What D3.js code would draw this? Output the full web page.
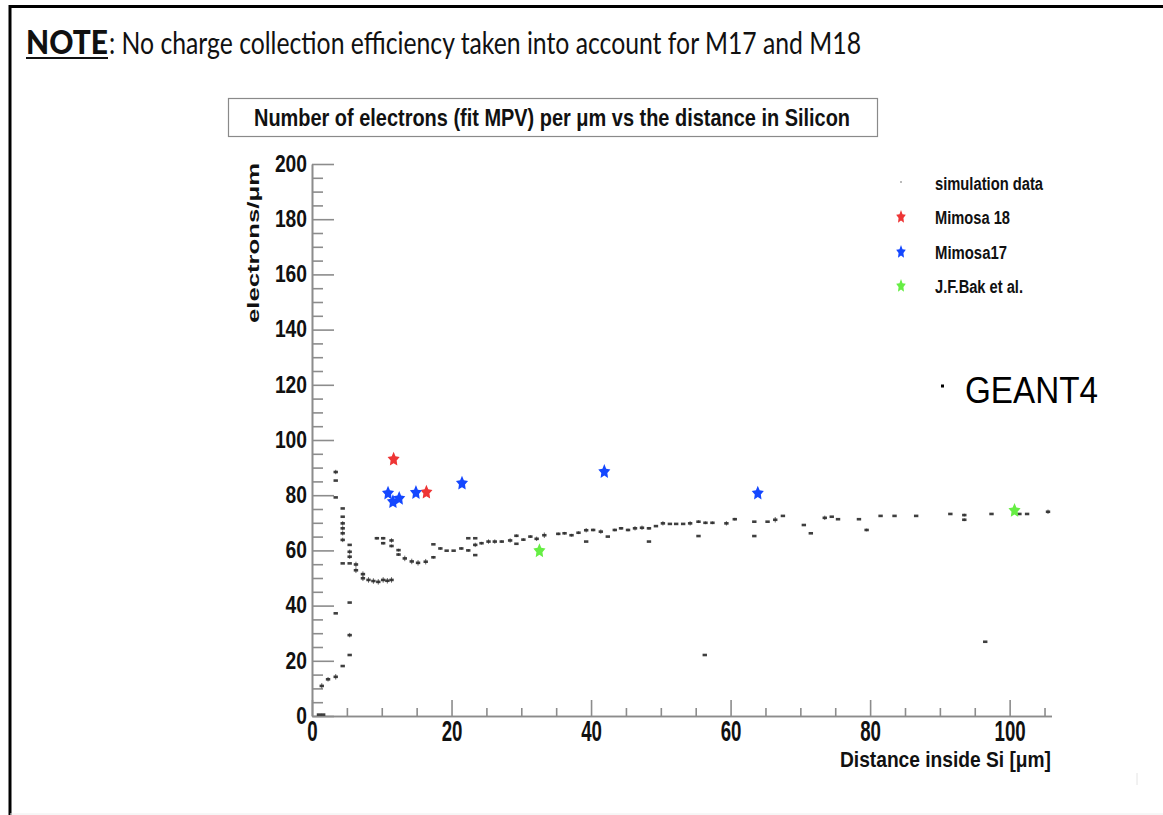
<!DOCTYPE html>
<html>
<head>
<meta charset="utf-8">
<script src="https://cdn.jsdelivr.net/npm/d3@7"></script>
<style>
  html, body { margin: 0; padding: 0; background: #fff; }
  svg { display: block; }
  .root-text { font-family: "Liberation Sans", Arial, sans-serif; font-weight: bold; fill: #111; }
</style>
</head>
<body>
<svg id="chart" width="1163" height="815"></svg>
<script>
// Simulated electrons per micron (fit MPV) vs distance in silicon
const simX = [1.0, 1.6, 1.4, 2.3, 3.4, 4.4,
  3.4, 3.4, 3.4, 3.4,
  4.4, 4.4, 4.4, 4.4, 4.4, 4.4, 4.4,
  5.4, 5.4, 5.4, 5.4, 5.4, 5.4, 5.4,
  6.3, 6.3,
  7.3, 7.3, 8.1, 8.8, 9.5, 10.2, 10.8, 11.4,
  9.3, 10.2, 10.2, 11.4, 11.4,
  12.4, 12.4, 13.3, 14.3, 15.2, 16.3, 17.4, 17.4,
  18.4, 19.3, 20.3, 21.4,
  22.4, 22.4, 23.4, 23.4, 23.4, 24.3, 25.3, 26.2, 27.2, 28.4, 29.3, 29.3, 30.3, 31.3, 32.2, 33.3,
  35.3, 36.2, 37.2, 38.2, 39.3, 39.3, 40.3, 41.4, 42.4, 43.4, 44.3, 45.3, 46.3, 47.3, 48.3, 48.3,
  49.3, 50.3, 51.3, 52.2, 53.2, 54.2, 55.4, 55.4, 56.4, 57.4, 59.4, 60.6, 63.4, 63.4, 65.3, 66.4,
  67.5, 70.5, 71.5, 73.5, 74.5, 75.4, 78.4, 79.5, 81.5, 83.5, 86.6, 91.5, 93.5, 93.5, 97.4,
  101.4, 102.5, 105.5,
  56.3, 96.5];
const simY = [0.5, 0.5, 10.9, 13.3, 14.2, 18.1,
  88.4, 85.3, 79.2, 37.2,
  75.2, 72.2, 69.8, 68.0, 66.2, 63.8, 55.3,
  62.0, 59.5, 57.7, 55.3, 41.1, 29.3, 22.1,
  54.9, 52.8,
  51.4, 49.9, 49.3, 48.9, 48.6, 49.3, 49.0, 49.3,
  64.4, 64.4, 62.6, 63.6, 61.6,
  60.1, 58.5, 57.1, 56.0, 55.5, 55.9, 57.5, 62.2,
  60.7, 59.9, 59.9, 60.7,
  64.4, 60.0, 64.4, 62.0, 58.3, 62.6, 63.2, 63.2, 63.2, 63.6, 65.3, 62.4, 63.9, 65.0, 64.2, 65.5,
  66.0, 66.2, 65.5, 66.4, 67.3, 63.2, 67.4, 66.8, 65.0, 67.4, 68.0, 67.4, 68.0, 68.2, 68.0, 63.2,
  68.8, 69.8, 69.6, 69.6, 69.6, 69.8, 70.4, 65.2, 70.0, 70.0, 69.8, 71.3, 70.4, 65.2, 70.4, 71.1,
  72.5, 69.2, 66.2, 71.8, 72.2, 71.3, 71.3, 67.4, 72.5, 72.5, 72.5, 73.2, 72.8, 71.1, 73.2,
  73.2, 73.2, 74.0,
  22.1, 26.9];
const simErr = [0, 0, 1, 0.8, 1, 0,
  0.8, 0, 0, 0,
  0, 0, 0.8, 0.8, 0.8, 0.8, 0,
  0, 0.8, 0.8, 0, 0, 0.8, 0,
  1, 1,
  1, 1, 1, 1, 1, 1, 1, 1,
  0.5, 0.5, 0.5, 0.8, 0.5,
  0.5, 0.5, 1, 1, 1, 1, 0.5, 0,
  0.5, 0, 0, 0.5,
  0, 0.5, 0, 0.8, 0, 0.5, 0.8, 0.8, 0.5, 0.8, 0.5, 0, 0.5, 0.5, 0.8, 1,
  0.5, 0.5, 0.5, 0.5, 0.8, 0, 0.5, 0.8, 0, 0.5, 0.5, 0.5, 0.8, 0.8, 0.5, 0,
  0, 0.8, 0, 0, 0, 0.8, 0.5, 0, 0.5, 0.5, 0.8, 0.5, 0, 0, 0, 1,
  0, 0, 0, 0.8, 0, 0, 0, 0.5, 0, 0, 0, 0, 0.5, 0.5, 0,
  0, 0, 0.8,
  0, 0];

// Measured MPV points
const m18X = [11.7, 16.4];
const m18Y = [93.0, 81.0];
const m17X = [10.9, 11.6, 12.5, 14.9, 21.5, 41.9, 63.9];
const m17Y = [80.7, 77.6, 78.8, 80.9, 84.3, 88.5, 80.7];
const bakX = [32.6, 100.7];
const bakY = [59.8, 74.4];

// Axis ticks and labels
const xMajorTicks = [0, 20, 40, 60, 80, 100];
const yMajorTicks = [0, 20, 40, 60, 80, 100, 120, 140, 160, 180, 200];
const legendLabels = ["simulation data", "Mimosa 18", "Mimosa17", "J.F.Bak et al."];
const legendColors = ["#bbbbbb", "#ee3535", "#1447ff", "#66ee44"];

const svg = d3.select("#chart");

// Slide frame
svg.append("path")
  .attr("d", "M10,815 L10,6.5 L1163,6.5")
  .attr("fill", "none").attr("stroke", "#000").attr("stroke-width", 3);
svg.append("line").attr("x1", 10).attr("x2", 1163).attr("y1", 814).attr("y2", 814)
  .attr("stroke", "#eee").attr("stroke-width", 1);

// Note line
svg.append("text")
  .attr("x", 26).attr("y", 54)
  .attr("font-family", "Lato, 'Open Sans', sans-serif").attr("font-weight", 900)
  .attr("font-size", 32).attr("fill", "#111")
  .attr("textLength", 82).attr("lengthAdjust", "spacingAndGlyphs")
  .text("NOTE");
svg.append("line").attr("x1", 26).attr("x2", 108).attr("y1", 58).attr("y2", 58)
  .attr("stroke", "#111").attr("stroke-width", 2);
svg.append("text")
  .attr("x", 109).attr("y", 54)
  .attr("font-family", "Lato, 'Open Sans', sans-serif").attr("font-weight", 400)
  .attr("font-size", 31).attr("fill", "#111")
  .attr("textLength", 752).attr("lengthAdjust", "spacingAndGlyphs")
  .text(": No charge collection efficiency taken into account for M17 and M18");

// Title box
svg.append("rect")
  .attr("x", 228.5).attr("y", 98.5).attr("width", 649).attr("height", 38)
  .attr("fill", "#fff").attr("stroke", "#8a8a8a").attr("stroke-width", 1.2);
svg.append("text").attr("class", "root-text")
  .attr("x", 254).attr("y", 126)
  .attr("font-size", 24)
  .attr("textLength", 596).attr("lengthAdjust", "spacingAndGlyphs")
  .text("Number of electrons (fit MPV) per \u03bcm vs the distance in Silicon");

// Scales
const x = d3.scaleLinear().domain([0, 106]).range([312, 1051.5]);
const y = d3.scaleLinear().domain([0, 200]).range([716, 164]);

const axisColor = "#8c8c8c";

// Y axis: major ticks pointing inward, labels on the left
const gy = svg.append("g").attr("transform", `translate(${x(0)},0)`)
  .call(d3.axisLeft(y).tickValues(yMajorTicks).tickSize(-22).tickSizeOuter(0).tickPadding(5));
gy.append("g").call(d3.axisLeft(y).tickValues(d3.range(0, 201, 5).filter(v => v % 20 !== 0))
  .tickSize(-11).tickSizeOuter(0).tickFormat(""));
gy.selectAll("path, line").attr("stroke", axisColor).attr("stroke-width", 1.6);
gy.selectAll(".tick text")
  .attr("class", "root-text")
  .attr("font-size", 23)
  .attr("fill", "#111")
  .attr("textLength", d => String(d).length * 10.7)
  .attr("lengthAdjust", "spacingAndGlyphs");

// X axis: ticks pointing up, labels below
const gx = svg.append("g").attr("transform", `translate(0,${y(0)})`)
  .call(d3.axisBottom(x).tickValues(xMajorTicks).tickSize(-16).tickSizeOuter(0).tickPadding(4));
gx.append("g").call(d3.axisBottom(x).tickValues(d3.range(0, 106, 5).filter(v => v % 20 !== 0))
  .tickSize(-8).tickSizeOuter(0).tickFormat(""));
gx.selectAll("path, line").attr("stroke", axisColor).attr("stroke-width", 1.6);
gx.selectAll(".tick text")
  .attr("class", "root-text")
  .attr("font-size", 29)
  .attr("fill", "#111")
  .attr("textLength", d => String(d).length * 10.4)
  .attr("lengthAdjust", "spacingAndGlyphs");

// Axis titles
svg.append("text").attr("class", "root-text")
  .attr("transform", "translate(259,243) rotate(-90)")
  .attr("text-anchor", "middle").attr("font-size", 17)
  .attr("textLength", 160).attr("lengthAdjust", "spacingAndGlyphs")
  .text("electrons/\u03bcm");
svg.append("text").attr("class", "root-text")
  .attr("x", 1051).attr("y", 767)
  .attr("text-anchor", "end").attr("font-size", 22)
  .attr("textLength", 211).attr("lengthAdjust", "spacingAndGlyphs")
  .text("Distance inside Si [\u03bcm]");
svg.append("line").attr("x1", 1137).attr("x2", 1137).attr("y1", 773).attr("y2", 785)
  .attr("stroke", "#e4e4e4").attr("stroke-width", 1);

// Simulation points with small vertical error bars
const simIdx = d3.range(simX.length);
const gs = svg.append("g");
gs.selectAll("line.err").data(simIdx.filter(i => simErr[i] > 0)).join("line")
  .attr("class", "err")
  .attr("x1", i => x(simX[i])).attr("x2", i => x(simX[i]))
  .attr("y1", i => y(simY[i] - simErr[i])).attr("y2", i => y(simY[i] + simErr[i]))
  .attr("stroke", "#666").attr("stroke-width", 1);
gs.selectAll("rect").data(simIdx).join("rect")
  .attr("x", i => x(simX[i]) - 2.2).attr("y", i => y(simY[i]) - 1.3)
  .attr("width", 4.4).attr("height", 2.6)
  .attr("fill", "#2a2a2a").attr("opacity", 0.9);

// Five-point star with a full body, like the ROOT filled-star marker
const fatStar = {
  draw(ctx, size) {
    const r = Math.sqrt(size) * 0.75, ri = r * 0.5;
    for (let k = 0; k < 10; k++) {
      const a = -Math.PI / 2 + k * Math.PI / 5;
      const rr = k % 2 ? ri : r;
      const px = rr * Math.cos(a), py = rr * Math.sin(a);
      if (k === 0) ctx.moveTo(px, py); else ctx.lineTo(px, py);
    }
    ctx.closePath();
  }
};
const star = d3.symbol().type(fatStar).size(72);
function drawStars(xs, ys, color) {
  svg.append("g").selectAll("path").data(d3.range(xs.length)).join("path")
    .attr("d", star)
    .attr("transform", i => `translate(${x(xs[i])},${y(ys[i])}) scale(1,1.2)`)
    .attr("fill", color);
}
drawStars(m18X, m18Y, legendColors[1]);
drawStars(m17X, m17Y, legendColors[2]);
drawStars(bakX, bakY, legendColors[3]);

// Legend
const legendY = [183, 217, 252, 286];
const legendLen = [108, 75, 72, 88];
const gl = svg.append("g");
legendLabels.forEach((lab, i) => {
  if (i === 0) {
    gl.append("rect").attr("x", 900).attr("y", legendY[i] - 2).attr("width", 2).attr("height", 2)
      .attr("fill", legendColors[i]);
  } else {
    gl.append("path").attr("d", star)
      .attr("transform", `translate(901,${legendY[i]}) scale(0.8,1.1)`)
      .attr("fill", legendColors[i]);
  }
  gl.append("text").attr("class", "root-text")
    .attr("x", 935).attr("y", legendY[i] + 6.5)
    .attr("font-size", 18)
    .attr("textLength", legendLen[i]).attr("lengthAdjust", "spacingAndGlyphs")
    .text(lab);
});

// GEANT4 annotation
svg.append("rect").attr("x", 941).attr("y", 384.5).attr("width", 3).attr("height", 3).attr("fill", "#000");
svg.append("text")
  .attr("x", 965).attr("y", 403)
  .attr("font-family", "'Liberation Sans', Arial, sans-serif")
  .attr("font-size", 36).attr("fill", "#000")
  .attr("textLength", 133).attr("lengthAdjust", "spacingAndGlyphs")
  .text("GEANT4");
</script>
</body>
</html>
